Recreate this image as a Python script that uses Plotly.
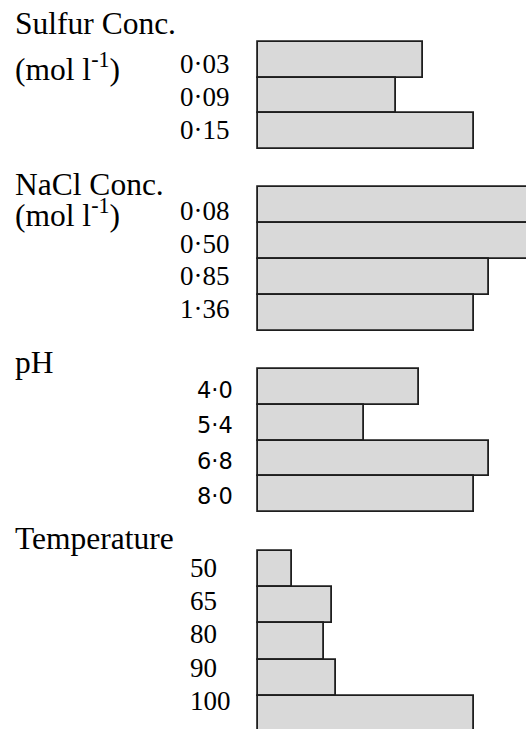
import plotly.graph_objects as go

# ---- data ----
sulfur_levels = ["0·03", "0·09", "0·15"]
sulfur_values = [76.6, 64.1, 100]
nacl_levels = ["0·08", "0·50", "0·85", "1·36"]
nacl_values = [132, 130, 107.2, 100]
ph_levels = ["4·0", "5·4", "6·8", "8·0"]
ph_values = [74.8, 49.3, 107.2, 100]
temp_levels = ["50", "65", "80", "90", "100"]
temp_values = [16.0, 34.5, 30.8, 36.3, 100]

W, H = 526, 729
SERIF = "Liberation Serif"
SANS = "DejaVu Sans"
FILL = "#d9d9d9"
EDGE = "#1e1e1e"
TITLE_SIZE = 31.5

# section layout (pixels): top of first bar, bar height, bottom of area
sections = [
    dict(levels=sulfur_levels, values=sulfur_values, top=42, bh=35.7, bottom=149,
         titles=[("Sulfur Conc.", 24), ("(mol l<sup>-1</sup>)", 67)],
         lab_font=SERIF, lab_size=27, lab_anchor="right", lab_x=232, lab_shift=(-4, 2.7)),
    dict(levels=nacl_levels, values=nacl_values, top=187, bh=36, bottom=331,
         titles=[("NaCl Conc.", 184), ("(mol l<sup>-1</sup>)", 213)],
         lab_font=SERIF, lab_size=27, lab_anchor="right", lab_x=232, lab_shift=(-6, 3.5)),
    dict(levels=ph_levels, values=ph_values, top=369, bh=35.75, bottom=512,
         titles=[("pH", 362)],
         lab_font=SANS, lab_size=22.5, lab_anchor="right", lab_x=235, lab_shift=(-3, 0.4)),
    dict(levels=temp_levels, values=temp_values, top=551, bh=36.2, bottom=729,
         titles=[("Temperature", 538)],
         lab_font=SERIF, lab_size=27, lab_anchor="left", lab_x=188, lab_shift=(1.5, 2.8)),
]

x_left_px = 255
x_scale = 2.16  # px per unit
x0 = -(257.5 - x_left_px) / x_scale
x1 = x0 + (W - x_left_px) / x_scale

fig = go.Figure()
annotations = []
for i, s in enumerate(sections, start=1):
    yname = "y" if i == 1 else f"y{i}"
    xname = "x" if i == 1 else f"x{i}"
    fig.add_trace(go.Bar(
        x=s["values"], y=s["levels"], orientation="h",
        xaxis=xname, yaxis=yname,
        marker=dict(color=FILL, line=dict(color=EDGE, width=1.8)),
        hoverinfo="skip", showlegend=False,
    ))
    pad = 2
    dom_top = s["top"] - pad
    dom_bot = min(s["bottom"] + pad, H)
    r_top = -0.5 - pad / s["bh"]
    r_bot = -0.5 + (dom_bot - s["top"]) / s["bh"]
    ax_key = "yaxis" if i == 1 else f"yaxis{i}"
    xax_key = "xaxis" if i == 1 else f"xaxis{i}"
    fig.update_layout(**{
        ax_key: dict(domain=[1 - dom_bot / H, 1 - dom_top / H], range=[r_bot, r_top],
                     type="category", visible=False, anchor=xname, fixedrange=True),
        xax_key: dict(domain=[x_left_px / W, 1], range=[x0, x1], visible=False,
                      anchor=yname, fixedrange=True),
    })
    s0, st = s["lab_shift"]
    for j, lab in enumerate(s["levels"]):
        annotations.append(dict(
            text=lab, xref="paper", yref=yname, x=s["lab_x"] / W, y=j,
            xanchor=s["lab_anchor"], yanchor="middle", showarrow=False,
            yshift=s0 + st * j,
            font=dict(family=s["lab_font"], size=s["lab_size"], color="black"),
        ))
    for t, ypx in s["titles"]:
        annotations.append(dict(
            text=t, xref="paper", yref="paper", x=13 / W, y=1 - ypx / H,
            xanchor="left", yanchor="middle", showarrow=False,
            font=dict(family=SERIF, size=TITLE_SIZE, color="black"),
        ))

fig.update_layout(
    width=W, height=H, margin=dict(l=0, r=0, t=0, b=0),
    paper_bgcolor="white", plot_bgcolor="white",
    bargap=0, annotations=annotations,
)
fig.write_html("out.html", config={"displayModeBar": False},
               post_script="document.body.style.margin='0';")
